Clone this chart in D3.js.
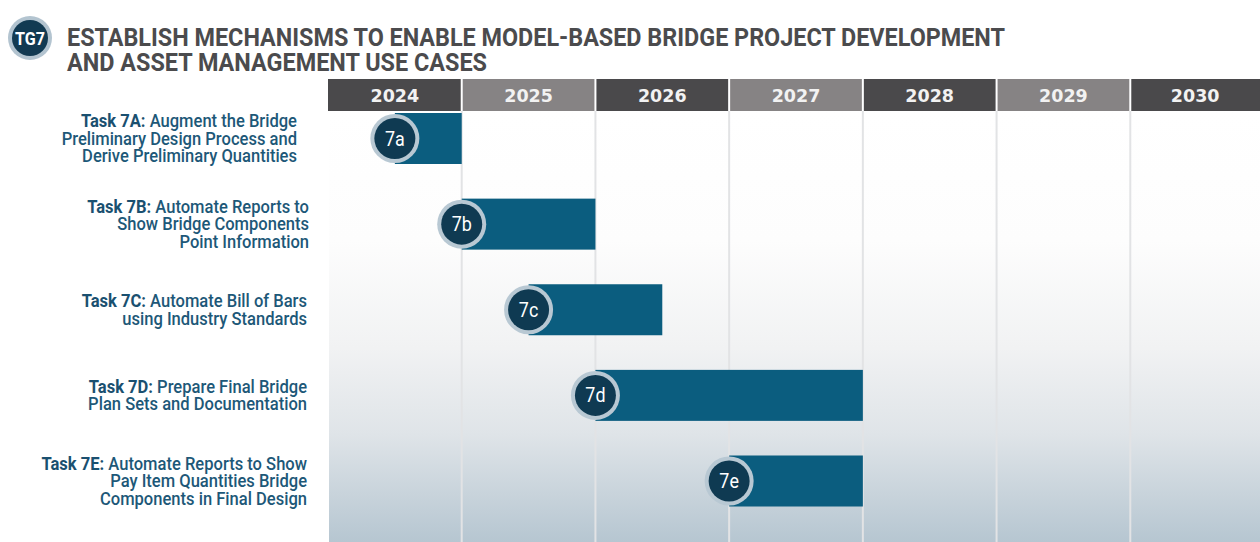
<!DOCTYPE html>
<html>
<head>
<meta charset="utf-8">
<script src="https://cdn.jsdelivr.net/npm/d3@7"></script>
<style>
  html, body { margin: 0; padding: 0; background: #ffffff; }
  svg { display: block; }
</style>
</head>
<body>
<svg id="chart" width="1260" height="542"></svg>
<script>
// ---------- data ----------
const years = [2024, 2025, 2026, 2027, 2028, 2029, 2030];
const tasks = ["7a", "7b", "7c", "7d", "7e"];
const taskTitles = ["Task 7A:", "Task 7B:", "Task 7C:", "Task 7D:", "Task 7E:"];
const taskLines = [
  ["Augment the Bridge", "Preliminary Design Process and", "Derive Preliminary Quantities"],
  ["Automate Reports to", "Show Bridge Components", "Point Information"],
  ["Automate Bill of Bars", "using Industry Standards"],
  ["Prepare Final Bridge", "Plan Sets and Documentation"],
  ["Automate Reports to Show", "Pay Item Quantities Bridge", "Components in Final Design"]
];
const startYears = [2024.5, 2025.0, 2025.5, 2026.0, 2027.0];
const endYears   = [2025.0, 2026.0, 2026.5, 2028.0, 2028.0];
const titleLines = [
  "ESTABLISH MECHANISMS TO ENABLE MODEL-BASED BRIDGE PROJECT DEVELOPMENT",
  "AND ASSET MANAGEMENT USE CASES"
];
const badgeText = "TG7";

// ---------- layout ----------
const W = 1260, H = 542;
const svg = d3.select("#chart");
const x = d3.scaleLinear().domain([2024, 2031]).range([328, 1264]);
const y = d3.scalePoint().domain(tasks).range([138.5, 481]);
const barH = 51;
const headerTop = 79, headerBot = 111;

const defs = svg.append("defs");
const grad = defs.append("linearGradient").attr("id", "bg")
  .attr("x1", 0).attr("y1", 0).attr("x2", 0).attr("y2", 1);
[["0%", "#ffffff"], ["30%", "#fdfdfd"], ["55%", "#f1f2f3"], ["75%", "#dfe4e8"], ["100%", "#b6c6d1"]]
  .forEach(([o, c]) => grad.append("stop").attr("offset", o).attr("stop-color", c));

// background of chart area
svg.append("rect").attr("x", x(2024) + 1).attr("y", headerBot)
  .attr("width", W - x(2024)).attr("height", H - headerBot)
  .attr("fill", "url(#bg)");

// gridlines
svg.append("g").selectAll("line").data(years.slice(1)).join("line")
  .attr("x1", d => x(d)).attr("x2", d => x(d))
  .attr("y1", headerBot).attr("y2", H)
  .attr("stroke", "#e2e3e5").attr("stroke-width", 2);

// header cells
const hdr = svg.append("g");
hdr.selectAll("rect").data(years).join("rect")
  .attr("x", d => x(d) + (d === 2024 ? 0 : 1))
  .attr("y", headerTop)
  .attr("width", d => x(d + 1) - x(d) - (d === 2024 ? 1 : 2))
  .attr("height", headerBot - headerTop)
  .attr("fill", (d, i) => i % 2 === 0 ? "#4a494b" : "#868384");
hdr.selectAll("text").data(years).join("text")
  .attr("x", d => (x(d) + Math.min(x(d + 1), W + 4)) / 2 + (d === 2030 ? -2 : 0))
  .attr("y", 101.5)
  .attr("text-anchor", "middle")
  .attr("font-family", "DejaVu Sans, sans-serif")
  .attr("font-weight", "bold")
  .attr("font-size", 17.5)
  .attr("fill", "#f2f2f2")
  .text(d => d);

// bars
const rows = tasks.map((t, i) => ({ t, i, s: startYears[i], e: endYears[i] }));
const bars = svg.append("g");
bars.selectAll("rect").data(rows).join("rect")
  .attr("x", d => x(d.s)).attr("y", d => y(d.t) - barH / 2)
  .attr("width", d => x(d.e) - x(d.s)).attr("height", barH)
  .attr("fill", "#0b5d7f");
bars.selectAll("circle.ring").data(rows).join("circle").attr("class", "ring")
  .attr("cx", d => x(d.s)).attr("cy", d => y(d.t)).attr("r", 24.5)
  .attr("fill", "#b8c8d3");
bars.selectAll("circle.core").data(rows).join("circle").attr("class", "core")
  .attr("cx", d => x(d.s)).attr("cy", d => y(d.t)).attr("r", 20.5)
  .attr("fill", "#0f3a52");
bars.selectAll("text").data(rows).join("text")
  .attr("transform", d => `translate(${x(d.s)},${y(d.t) + 7}) scale(0.92,1)`)
  .attr("text-anchor", "middle")
  .attr("font-family", "Roboto, sans-serif")
  .attr("font-size", 19.5)
  .attr("fill", "#ffffff")
  .text(d => d.t);

// task labels: one text element per task, lines as tspans
const lineH = 17.6;
const labelRight = [297, 309, 307, 307, 307];
const lab = svg.append("g");
rows.forEach(d => {
  const lines = taskLines[d.i];
  const n = lines.length;
  const t = lab.append("text")
    .attr("transform", `translate(${labelRight[d.i]},0) scale(0.92,1)`)
    .attr("text-anchor", "end")
    .attr("font-family", "Roboto, sans-serif")
    .attr("font-weight", 500)
    .attr("font-size", 18)
    .attr("fill", "#1d5878");
  lines.forEach((ln, k) => {
    const cy = y(d.t) + (k - (n - 1) / 2) * lineH;
    if (k === 0) {
      t.append("tspan").attr("x", 0).attr("y", cy + 6.3)
        .attr("font-weight", "bold").attr("fill", "#1a5070")
        .text(taskTitles[d.i] + " ");
      t.append("tspan").text(ln);
    } else {
      t.append("tspan").attr("x", 0).attr("y", cy + 6.3).text(ln);
    }
  });
});

// title badge
svg.append("circle").attr("cx", 30).attr("cy", 38).attr("r", 22).attr("fill", "#b3c4d0");
svg.append("circle").attr("cx", 30).attr("cy", 38).attr("r", 18).attr("fill", "#123a52");
svg.append("text")
  .attr("x", 30).attr("y", 45)
  .attr("text-anchor", "middle")
  .attr("font-family", "Roboto, sans-serif")
  .attr("font-weight", "bold")
  .attr("font-size", 19)
  .attr("textLength", 30).attr("lengthAdjust", "spacingAndGlyphs")
  .attr("fill", "#ffffff")
  .text(badgeText);

// title: one text element, two lines
const titleW = [938, 420];
const titleY = [46, 70.5];
const title = svg.append("text")
  .attr("font-family", "Roboto, sans-serif")
  .attr("font-weight", "bold")
  .attr("font-size", 26.5)
  .attr("fill", "#4b4b4d");
titleLines.forEach((tl, i) => {
  title.append("tspan")
    .attr("x", 67).attr("y", titleY[i])
    .attr("textLength", titleW[i]).attr("lengthAdjust", "spacingAndGlyphs")
    .text(tl);
});
</script>
</body>
</html>
